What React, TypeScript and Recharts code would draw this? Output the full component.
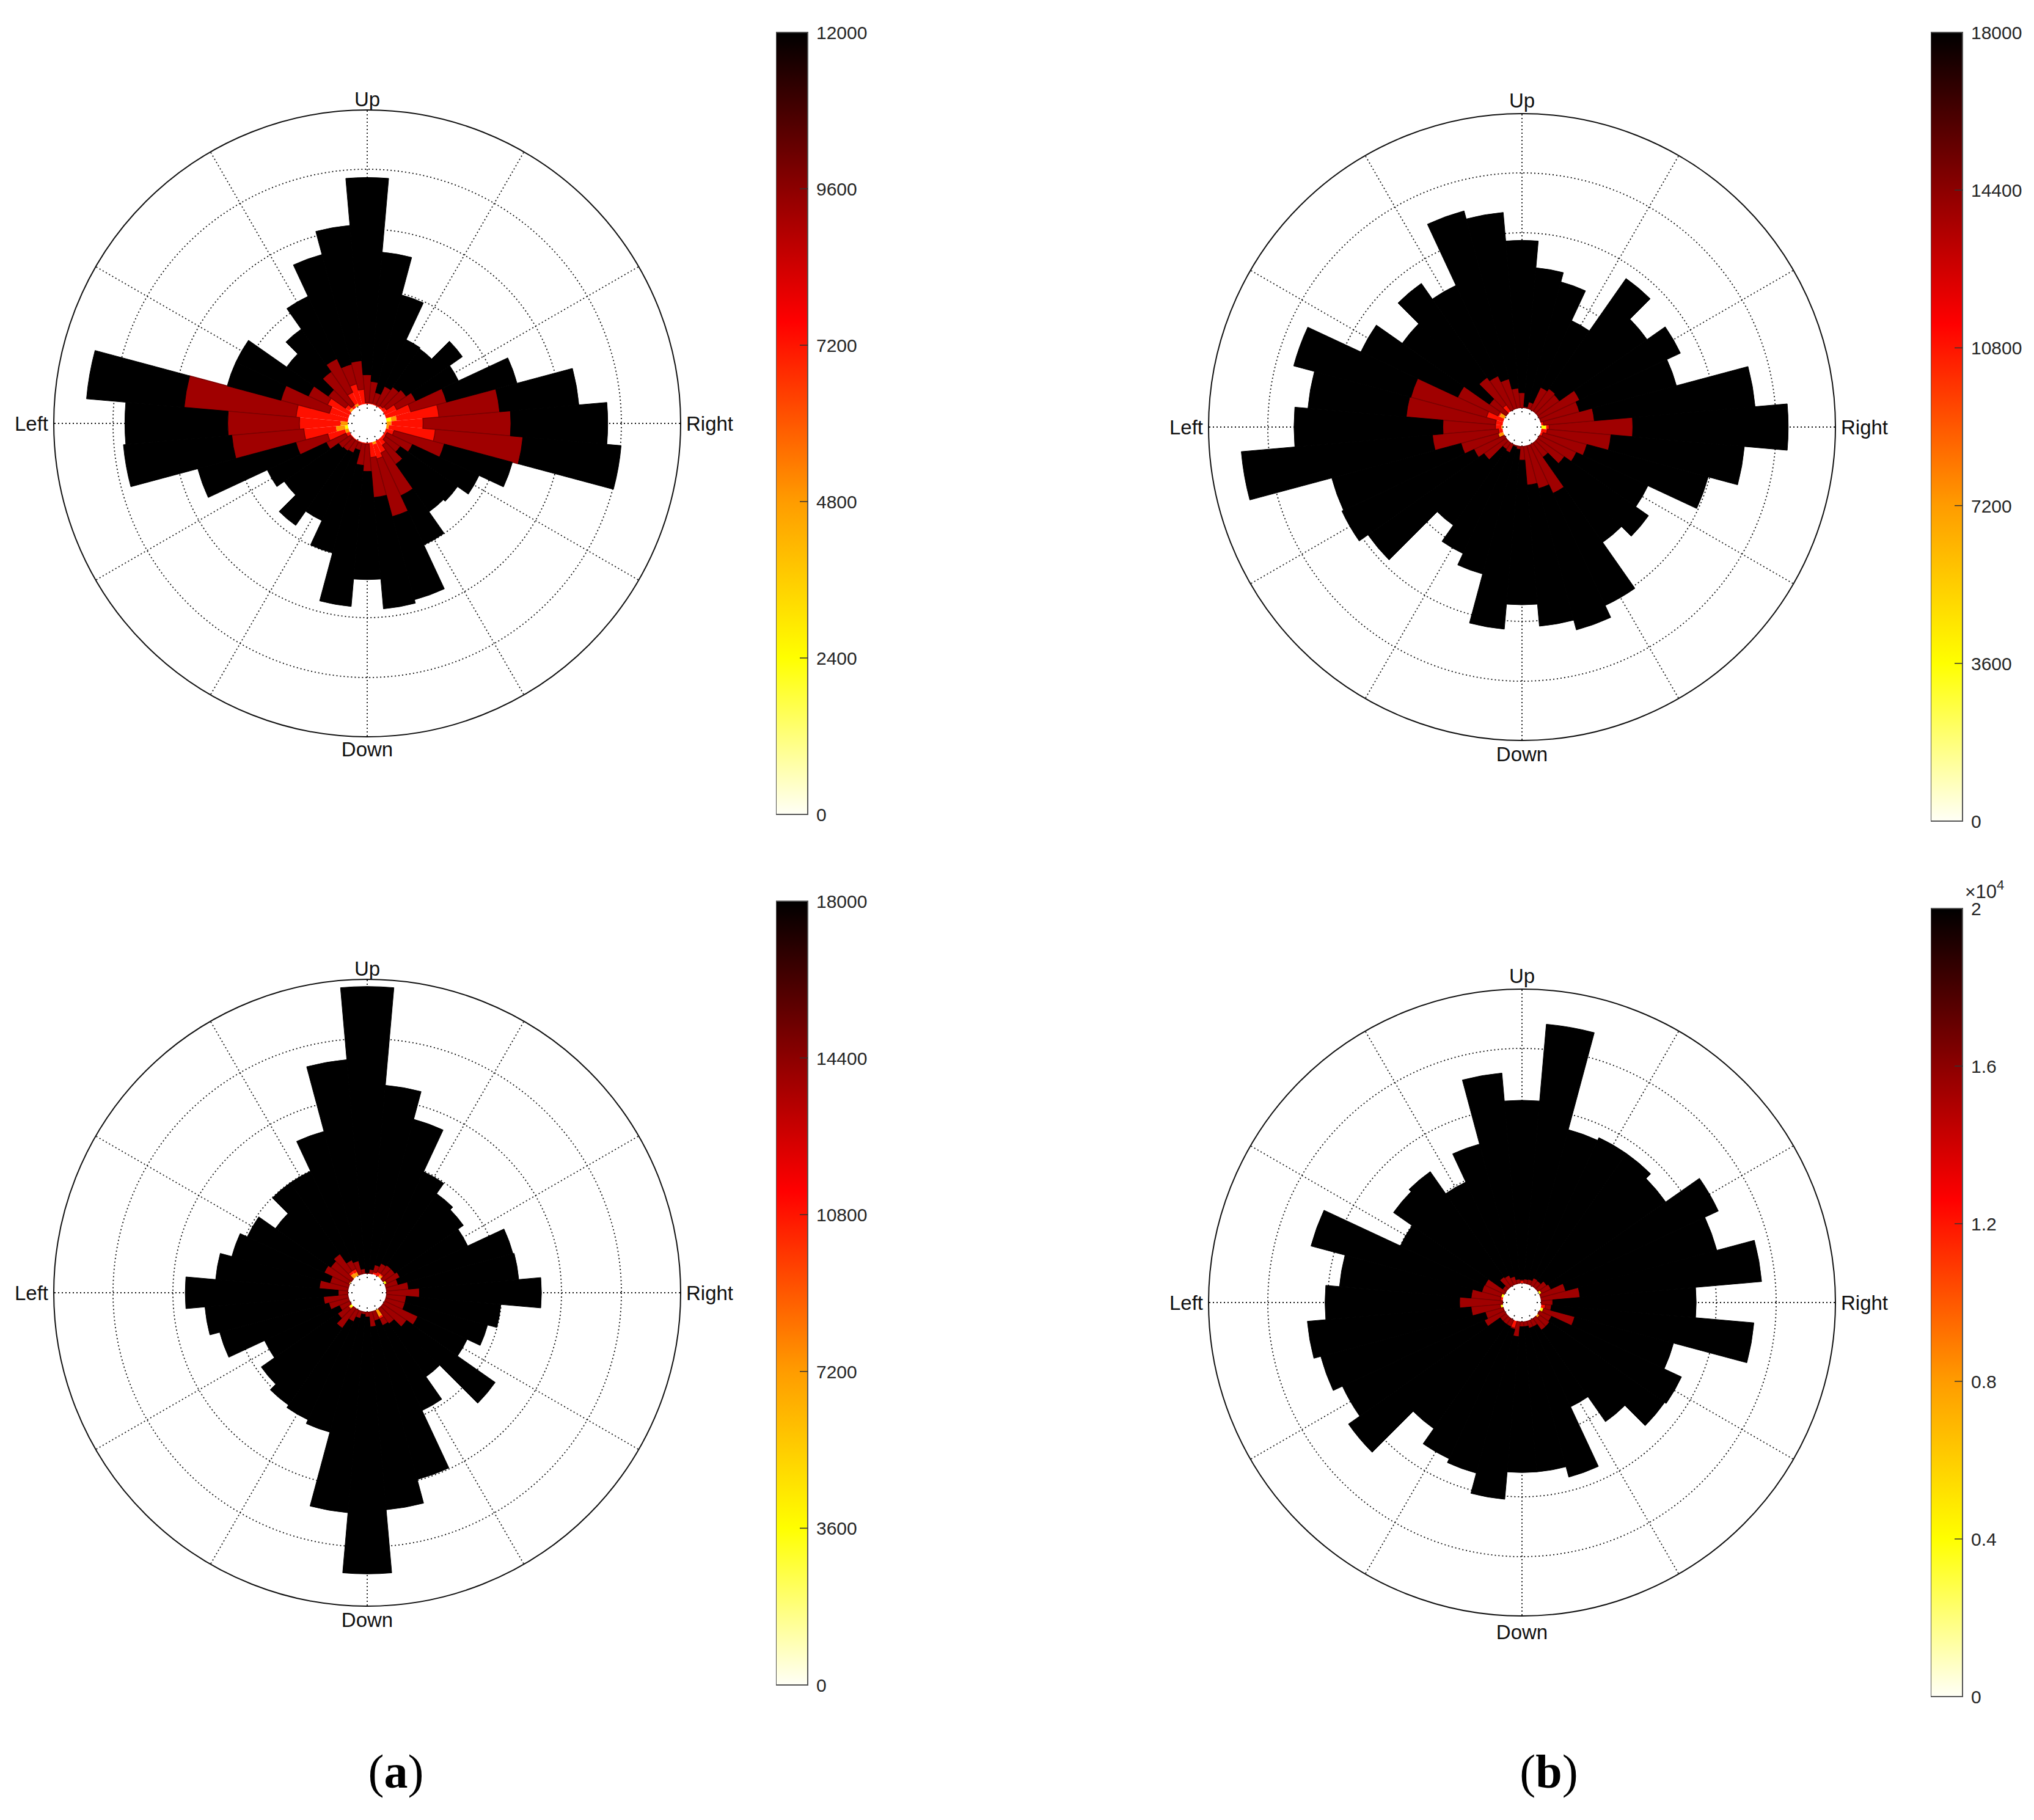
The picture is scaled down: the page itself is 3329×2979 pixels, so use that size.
import { Bar, BarChart, PolarAngleAxis, PolarGrid, PolarRadiusAxis, RadialBar, RadialBarChart, XAxis, YAxis } from 'recharts'

const angles = [0, 10, 20, 30, 40, 50, 60, 70, 80, 90, 100, 110, 120, 130, 140, 150, 160, 170, 180, 190, 200, 210, 220, 230, 240, 250, 260, 270, 280, 290, 300, 310, 320, 330, 340, 350]
const gridAngles = [0, 30, 60, 90, 120, 150, 180, 210, 240, 270, 300, 330]
const innerRings = [1, 2, 3, 4]
const directions: Record<number, string> = { 0: 'Right', 90: 'Up', 180: 'Left', 270: 'Down' }

const HOLE = 0.08
const HALF = 640
const RADIUS = 513

// outer radius of each colour band per 10 degree bin, in ring units
const blackA = [3.78, 3.31, 2.35, 1.44, 1.7, 1.28, 1.3, 1.98, 2.63, 3.87, 3.08, 2.68, 2.1, 1.68, 1.4, 2.18, 2.18, 4.47, 3.81, 3.85, 2.69, 1.6, 1.45, 1.84, 1.55, 2.0, 2.83, 2.37, 2.87, 2.81, 2.0, 1.56, 1.6, 1.82, 2.27, 4.02]
const darkA = [2.16, 1.98, 1.13, 0.65, 0.55, 0.5, 0.44, 0.29, 0.46, 0.57, 0.81, 0.78, 0.95, 0.81, 0.55, 0.84, 1.25, 2.83, 2.09, 2.03, 0.99, 0.51, 0.34, 0.32, 0.3, 0.22, 0.46, 0.56, 1.0, 1.37, 1.09, 0.59, 0.43, 0.59, 1.09, 2.37]
const redA = [0.69, 0.96, 0.51, 0.3, 0.15, 0.12, 0.1, 0.1, 0.1, 0.1, 0.33, 0.44, 0.33, 0.13, 0.2, 0.49, 0.41, 0.95, 0.89, 0.82, 0.44, 0.15, 0.1, 0.1, 0.1, 0.1, 0.1, 0.1, 0.33, 0.37, 0.3, 0.2, 0.13, 0.12, 0.22, 0.9]
const orangeA = [0.16, 0.25, 0, 0, 0, 0, 0, 0, 0, 0, 0, 0, 0.12, 0, 0.12, 0, 0, 0, 0.2, 0.28, 0.14, 0, 0, 0, 0, 0, 0, 0, 0, 0.12, 0, 0, 0, 0, 0, 0.12]
const yellowA = [0, 0.16, 0, 0, 0, 0, 0, 0, 0, 0, 0, 0, 0, 0, 0, 0, 0, 0, 0, 0.13, 0, 0, 0, 0, 0, 0, 0, 0, 0, 0, 0, 0, 0, 0, 0, 0]

const blackB = [4.21, 3.67, 2.43, 2.68, 2.31, 2.79, 1.72, 2.27, 2.43, 2.88, 3.36, 3.5, 2.37, 2.69, 2.2, 2.73, 3.71, 3.35, 3.57, 4.47, 3.05, 3.08, 2.9, 1.76, 2.09, 2.3, 3.15, 2.73, 3.1, 3.27, 3.05, 2.11, 2.34, 2.08, 2.98, 3.49]
const darkB = [1.61, 0.97, 0.75, 0.82, 0.52, 0.54, 0.49, 0.19, 0.1, 0.33, 0.41, 0.59, 0.7, 0.77, 0.42, 0.94, 1.68, 1.7, 1.08, 1.26, 0.81, 0.64, 0.53, 0.21, 0.23, 0.1, 0.13, 0.31, 0.73, 0.82, 0.98, 0.37, 0.62, 0.76, 0.88, 1.25]
const redB = [0.21, 0.12, 0, 0, 0, 0, 0, 0, 0, 0, 0, 0, 0, 0.21, 0, 0.2, 0.37, 0.2, 0.2, 0.15, 0.12, 0, 0, 0, 0, 0, 0, 0, 0, 0, 0, 0, 0, 0, 0.12, 0.18]
const orangeB = [0, 0, 0, 0, 0, 0, 0, 0, 0, 0, 0, 0, 0, 0, 0, 0.17, 0, 0, 0.1, 0, 0.17, 0, 0, 0, 0, 0, 0, 0, 0, 0, 0, 0, 0, 0, 0, 0]
const yellowB = [0.16, 0, 0, 0, 0, 0, 0, 0, 0, 0, 0, 0, 0, 0, 0, 0, 0, 0, 0, 0, 0, 0, 0, 0, 0, 0, 0, 0, 0, 0, 0, 0, 0, 0, 0, 0]

const blackC = [2.67, 2.3, 2.28, 1.61, 1.72, 1.78, 1.99, 2.76, 3.24, 4.88, 3.67, 2.55, 2.0, 2.0, 1.63, 1.97, 2.1, 2.3, 2.8, 2.48, 2.31, 1.65, 1.92, 2.05, 2.1, 2.17, 3.45, 4.46, 3.4, 2.99, 1.93, 1.47, 2.37, 1.6, 1.84, 2.0]
const darkC = [0.63, 0.45, 0.29, 0.36, 0.32, 0.32, 0.3, 0.24, 0.15, 0.09, 0.16, 0.31, 0.36, 0.55, 0.5, 0.55, 0.4, 0.56, 0.24, 0.49, 0.42, 0.27, 0.36, 0.48, 0.29, 0.2, 0.12, 0.16, 0.33, 0.24, 0.36, 0.39, 0.56, 0.69, 0.41, 0.41]
const redC = [0, 0, 0, 0.12, 0, 0.15, 0.15, 0.12, 0, 0, 0, 0, 0.2, 0.2, 0, 0, 0, 0, 0, 0, 0, 0, 0.15, 0, 0, 0, 0, 0, 0, 0, 0.24, 0, 0, 0, 0, 0]
const orangeC = [0, 0, 0, 0, 0, 0.12, 0, 0, 0, 0, 0, 0, 0.14, 0.15, 0, 0.1, 0, 0, 0, 0, 0, 0, 0.13, 0, 0, 0, 0, 0, 0, 0, 0.2, 0, 0, 0, 0, 0]
const yellowC = [0, 0, 0, 0.12, 0, 0, 0, 0, 0, 0, 0, 0, 0, 0, 0, 0, 0, 0, 0, 0, 0, 0, 0.12, 0, 0, 0, 0, 0, 0, 0, 0, 0, 0, 0, 0, 0]

const blackD = [2.67, 3.78, 3.13, 3.38, 2.69, 2.8, 2.8, 2.75, 4.43, 3.14, 3.61, 2.5, 1.98, 2.43, 2.38, 2.0, 3.41, 2.82, 3.05, 3.36, 3.24, 3.07, 3.3, 2.33, 2.64, 2.71, 3.06, 2.6, 2.6, 2.78, 1.68, 2.19, 2.67, 2.7, 2.38, 3.65]
const darkD = [0.27, 0.73, 0.51, 0.29, 0.26, 0.2, 0.21, 0.16, 0.15, 0.14, 0.15, 0.21, 0.26, 0.28, 0.15, 0.44, 0.45, 0.61, 0.8, 0.61, 0.39, 0.45, 0.2, 0.2, 0.2, 0.22, 0.33, 0.16, 0.16, 0.2, 0.2, 0.32, 0.32, 0.3, 0.67, 0.25]
const redD = [0, 0, 0, 0, 0, 0, 0, 0, 0, 0.12, 0, 0, 0, 0, 0, 0, 0, 0.12, 0, 0, 0, 0, 0, 0, 0, 0.2, 0, 0, 0, 0, 0, 0, 0, 0, 0, 0.15]
const orangeD = [0, 0, 0, 0, 0, 0, 0, 0, 0, 0, 0, 0, 0, 0, 0, 0, 0, 0, 0, 0, 0, 0, 0, 0, 0, 0, 0, 0, 0, 0, 0, 0, 0.12, 0, 0, 0]
const yellowD = [0, 0, 0, 0.12, 0, 0, 0, 0, 0, 0, 0, 0, 0, 0, 0, 0, 0.12, 0, 0, 0.12, 0, 0, 0, 0, 0, 0, 0, 0, 0, 0, 0, 0, 0, 0, 0.13, 0]

const ticksA = [0, 2400, 4800, 7200, 9600, 12000]
const ticksB = [0, 3600, 7200, 10800, 14400, 18000]
const ticksD = [0, 0.4, 0.8, 1.2, 1.6, 2]

const gradientStops: [string, string][] = [
  ['0%', '#fffff6'],
  ['20%', '#ffff00'],
  ['40%', '#ff9c00'],
  ['63%', '#ff0000'],
  ['80%', '#8c0000'],
  ['100%', '#000000'],
]

function buildRows(black: number[], dark: number[], red: number[], orange: number[], yellow: number[]) {
  return angles.map((angle, i) => {
    const y = Math.max(HOLE, yellow[i])
    const o = Math.max(y, orange[i])
    const r = Math.max(o, red[i])
    const d = Math.max(r, dark[i])
    const b = Math.max(d, black[i])
    return { angle, hole: HOLE, yellow: y - HOLE, orange: o - y, red: r - o, dark: d - r, black: b - d }
  })
}

// the band scale leaves ticks half a bin off the bar centres, so labels go by their own angle
function DirectionTick({ payload, upShift = 0, downShift = 0 }: any) {
  const label = directions[payload.value]
  if (!label) return null
  const a = (payload.value * Math.PI) / 180
  const x = HALF + (RADIUS + 8) * Math.cos(a)
  const y = HALF - (RADIUS + 8) * Math.sin(a)
  const props = { fontFamily: 'Liberation Sans', fontSize: 33, fill: '#111' }
  if (label === 'Up') return <text x={x} y={y + 2 - upShift} textAnchor="middle" {...props}>{label}</text>
  if (label === 'Down') return <text x={x} y={y + 24 + downShift} textAnchor="middle" {...props}>{label}</text>
  if (label === 'Left') return <text x={x - 1} y={y + 12} textAnchor="end" {...props}>{label}</text>
  return <text x={x + 1} y={y + 12} textAnchor="start" {...props}>{label}</text>
}

function Rose({ cx, cy, rows, upShift, downShift }: { cx: number; cy: number; rows: ReturnType<typeof buildRows>; upShift?: number; downShift?: number }) {
  return (
    <div style={{ position: 'absolute', left: cx - HALF, top: cy - HALF }}>
      <RadialBarChart
        width={HALF * 2}
        height={HALF * 2}
        cx={HALF}
        cy={HALF}
        data={rows}
        layout="centric"
        innerRadius={24}
        outerRadius={RADIUS}
        startAngle={5}
        endAngle={365}
        barCategoryGap={0}
        margin={{ top: 0, right: 0, bottom: 0, left: 0 }}
      >
        <PolarAngleAxis dataKey="angle" type="category" axisLine={false} tickLine={false} tick={<DirectionTick upShift={upShift} downShift={downShift} />} interval={0} />
        <PolarRadiusAxis type="number" domain={[0, 5]} tick={false} axisLine={false} />
        <RadialBar dataKey="hole" stackId="r" fill="none" stroke="none" isAnimationActive={false} />
        <RadialBar dataKey="yellow" stackId="r" fill="#ffff00" stroke="none" isAnimationActive={false} />
        <RadialBar dataKey="orange" stackId="r" fill="#ff9800" stroke="none" isAnimationActive={false} />
        <RadialBar dataKey="red" stackId="r" fill="#ff1000" stroke="none" isAnimationActive={false} />
        <RadialBar dataKey="dark" stackId="r" fill="#a00000" stroke="#7c0000" strokeWidth={1.5} isAnimationActive={false} />
        <RadialBar dataKey="black" stackId="r" fill="#000000" stroke="#000000" isAnimationActive={false} />
        <PolarGrid gridType="circle" polarAngles={gridAngles} polarRadius={innerRings.map((k) => 24 + 98 * k)} stroke="#111" strokeWidth={1.8} strokeDasharray="2 4" />
        <PolarGrid gridType="circle" radialLines={false} polarAngles={[]} polarRadius={[RADIUS]} stroke="#111" strokeWidth={2} />
      </RadialBarChart>
    </div>
  )
}

function ColorTick({ x, y, payload, ticks }: any) {
  const inner = payload.value !== ticks[0] && payload.value !== ticks[ticks.length - 1]
  return (
    <g>
      {inner && <line x1={x - 13} x2={x} y1={y} y2={y} stroke="#333" strokeWidth={1.5} />}
      <text x={x + 14} y={y + 11} fontFamily="Liberation Sans" fontSize={30} fill="#262626">{payload.value}</text>
    </g>
  )
}

function ColorBar({ id, left, top, bottom, ticks }: { id: string; left: number; top: number; bottom: number; ticks: number[] }) {
  const max = ticks[ticks.length - 1]
  const pad = 24
  return (
    <div style={{ position: 'absolute', left, top: top - pad }}>
      <BarChart
        width={52 + 130}
        height={bottom - top + pad * 2}
        data={[{ name: 'scale', value: max }]}
        barCategoryGap={0}
        margin={{ top: pad, right: 0, bottom: pad, left: 0 }}
      >
        <defs>
          <linearGradient id={id} x1="0" y1="1" x2="0" y2="0">
            {gradientStops.map(([offset, color]) => <stop key={offset} offset={offset} stopColor={color} />)}
          </linearGradient>
        </defs>
        <XAxis dataKey="name" hide />
        <YAxis
          orientation="right"
          width={130}
          domain={[0, max]}
          ticks={ticks}
          interval={0}
          axisLine={false}
          tickLine={false}
          tickSize={0}
          tickMargin={0}
          tick={<ColorTick ticks={ticks} />}
        />
        <Bar dataKey="value" fill={`url(#${id})`} stroke="#555" strokeWidth={2} isAnimationActive={false} />
      </BarChart>
    </div>
  )
}

function PanelLabel({ x, letter }: { x: number; letter: string }) {
  return (
    <div style={{ position: 'absolute', left: x - 100, width: 200, top: 2852, textAlign: 'center', fontFamily: 'Liberation Serif', fontSize: 78, lineHeight: '96px', color: '#000' }}>
      (<b>{letter}</b>)
    </div>
  )
}

export default function App() {
  return (
    <div style={{ position: 'absolute', left: 0, top: 0, width: 3329, height: 2979, background: '#fff', overflow: 'hidden' }}>
      <Rose cx={601} cy={693} rows={buildRows(blackA, darkA, redA, orangeA, yellowA)} />
      <Rose cx={2491} cy={699} rows={buildRows(blackB, darkB, redB, orangeB, yellowB)} upShift={4} downShift={2} />
      <Rose cx={601} cy={2116} rows={buildRows(blackC, darkC, redC, orangeC, yellowC)} downShift={2} />
      <Rose cx={2491} cy={2132} rows={buildRows(blackD, darkD, redD, orangeD, yellowD)} upShift={4} downShift={6} />
      <ColorBar id="cbA" left={1270} top={53} bottom={1333} ticks={ticksA} />
      <ColorBar id="cbB" left={3160} top={53} bottom={1344} ticks={ticksB} />
      <ColorBar id="cbC" left={1270} top={1475} bottom={2758} ticks={ticksB} />
      <ColorBar id="cbD" left={3160} top={1487} bottom={2777} ticks={ticksD} />
      <div style={{ position: 'absolute', left: 3216, top: 1442, fontFamily: 'Liberation Sans', fontSize: 31, color: '#262626', lineHeight: '36px', whiteSpace: 'nowrap' }}>
        <span style={{ fontSize: 30 }}>×</span>10<span style={{ fontSize: 22, position: 'relative', top: -14 }}>4</span>
      </div>
      <PanelLabel x={648} letter="a" />
      <PanelLabel x={2535} letter="b" />
    </div>
  )
}
